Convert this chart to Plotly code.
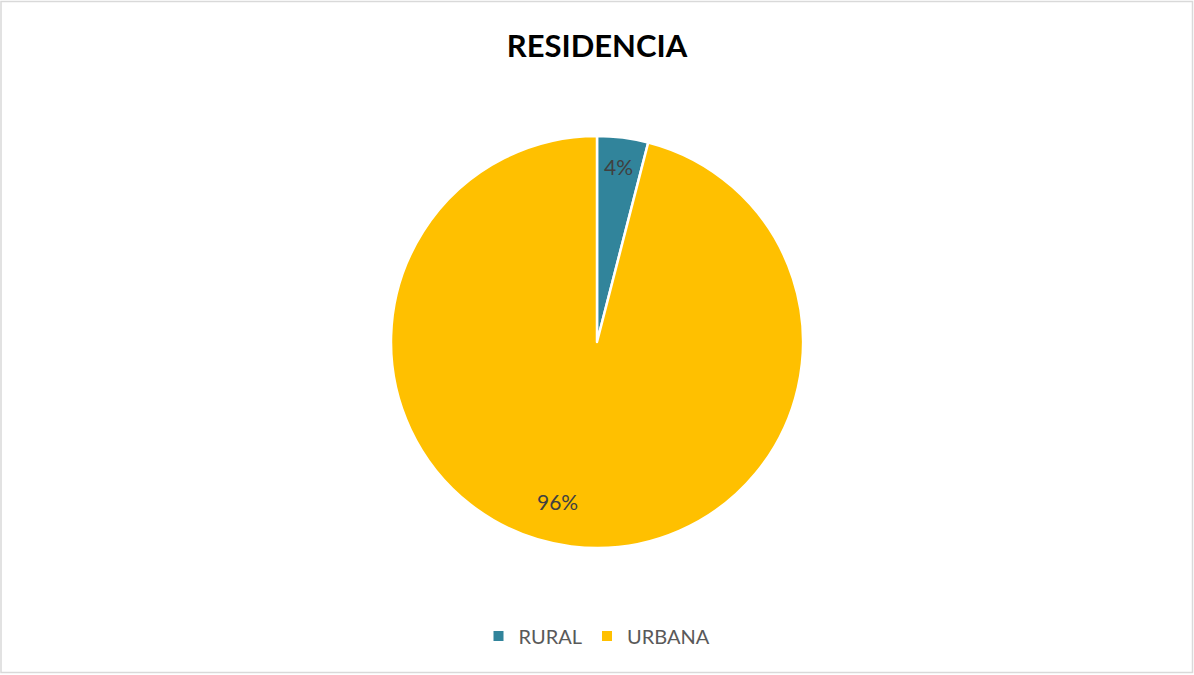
import math
import plotly.graph_objects as go

categories = ["RURAL", "URBANA"]
values = [4, 96]
colors = ["#31849B", "#FFC000"]
title_text = "RESIDENCIA"

W, H = 1194, 675
cx, cy = 597, 342          # pie centre in px
R = 206                    # pie radius in px
label_r = [0.85, 0.82]     # label distance (fraction of radius)
label_dx = [0, -18]        # horizontal label nudges (px)
label_dy = [-2, -8]        # vertical label nudges (px)

fig = go.Figure(go.Pie(
    labels=categories, values=values, sort=False, direction="clockwise", rotation=0,
    marker=dict(colors=colors, line=dict(color="white", width=2.5)),
    textinfo="none", hoverinfo="label+percent",
    domain=dict(x=[0.2, 0.8], y=[(H - cy - R) / H, (H - cy + R) / H]),
))

# percentage labels placed along each slice's bisector
total = sum(values)
annotations = []
start = 0.0
for v, lr, dx, dy in zip(values, label_r, label_dx, label_dy):
    frac = v / total
    mid = (start + frac / 2) * 2 * math.pi
    start += frac
    r = R * lr
    x = cx + r * math.sin(mid)
    y = cy - r * math.cos(mid)
    annotations.append(dict(
        x=x / W, y=1 - y / H, xref="paper", yref="paper", showarrow=False,
        xshift=dx, yshift=-dy,
        text=f"{round(frac * 100)}%", font=dict(family="Lato", size=21, color="#404040"),
        xanchor="center", yanchor="middle"))

fig.update_layout(
    width=W, height=H, margin=dict(l=0, r=0, t=0, b=0),
    paper_bgcolor="white", plot_bgcolor="white",
    title=dict(text=f"<b>{title_text}</b>", x=0.5, xanchor="center", y=1 - 46 / H, yanchor="middle",
               font=dict(family="Lato", size=31, color="#000000")),
    legend=dict(orientation="h", x=0.5, xanchor="center", y=1 - 636 / H, yanchor="middle",
                font=dict(family="Lato", size=20, color="#595959"), itemsizing="constant",
                traceorder="normal"),
    annotations=annotations,
    shapes=[dict(type="rect", xref="paper", yref="paper",
                 x0=1 / W, x1=1 - 1.5 / W, y0=2.5 / H, y1=1 - 1.5 / H,
                 line=dict(color="#D9D9D9", width=1.5), fillcolor="rgba(0,0,0,0)")],
)

fig.write_html("out.html")
